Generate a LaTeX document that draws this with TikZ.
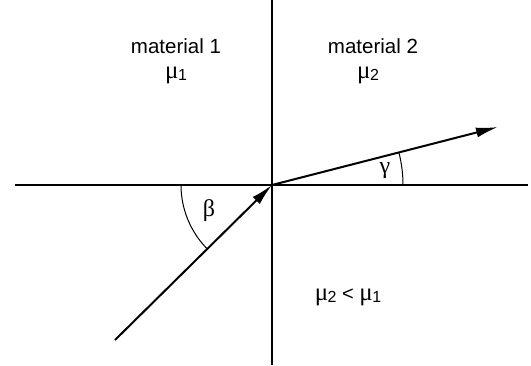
\documentclass[tikz,border=0pt]{standalone}
\usepackage{fontspec}
\setmainfont{Liberation Sans}
\newfontfamily\symfont{Liberation Serif}
\usetikzlibrary{arrows.meta}
\newcommand{\mymu}[1]{{\fontsize{25}{26}\selectfont\symfont μ}\kern-0.5pt\raisebox{-0.2ex}{\fontsize{16}{18}\selectfont #1}}
\begin{document}
\begin{tikzpicture}[x=1pt,y=-1pt,
  axis/.style={line width=2.2pt,black},
  ray/.style={line width=2pt,black},
  anglearc/.style={line width=1pt,black},
  lbl/.style={font=\fontsize{20.5}{24}\selectfont,inner sep=0pt},
  mulbl/.style={font=\fontsize{20}{22}\selectfont,inner sep=0pt},
  greek/.style={font=\fontsize{24}{26}\selectfont\symfont,inner sep=0pt},
  tip/.style={-{Latex[length=22pt,width=10pt]}}]
\useasboundingbox (0,0) rectangle (531,365);
\coordinate (O) at (272,185);
\coordinate (top) at (272,0);
\coordinate (bot) at (272,365);
\coordinate (left) at (15,185);
\coordinate (right) at (528,185);
\coordinate (inc) at (115,340);
\coordinate (refr) at (498,127);
\draw[axis] (top) -- (bot);
\draw[axis] (left) -- (right);
\draw[ray,tip] (inc) -- (O);
\draw[ray,tip] (O) -- (refr);
% angle arcs (y axis flipped: angles measured clockwise)
\draw[anglearc] ([shift={(180:91)}]O) arc[start angle=180,end angle=135.4,radius=91];
\draw[anglearc] ([shift={(0:131)}]O) arc[start angle=0,end angle=-14.4,radius=131];
\node[lbl] (m1) at (176,46) {material 1};
\node[lbl] (m2) at (373,46) {material 2};
\node[mulbl] (mu1) at (176,75) {\mymu{1}};
\node[mulbl] (mu2) at (368,75) {\mymu{2}};
\node[greek] (beta) at (209,211) {β};
\node[greek] (gamma) at (385,171) {γ};
\node[mulbl] (rel) at (348,297) {\mymu{2} < \mymu{1}};
\end{tikzpicture}
\end{document}
